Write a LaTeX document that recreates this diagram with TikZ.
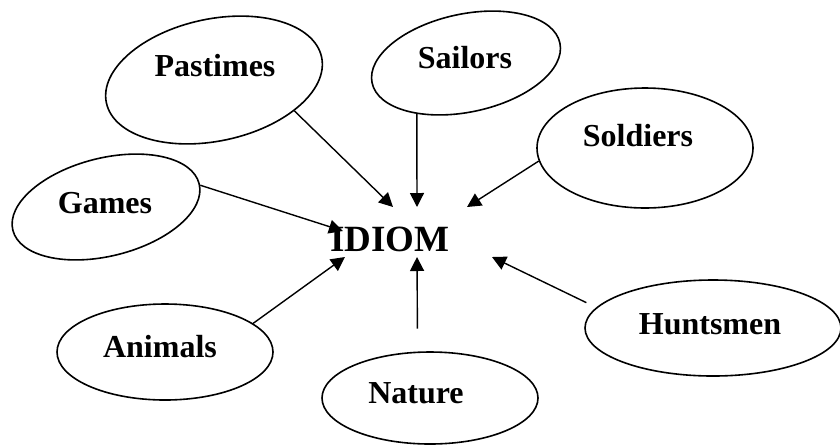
\documentclass[tikz,border=0pt]{standalone}
\usepackage{fontspec}
\setmainfont{Liberation Serif}
\usetikzlibrary{arrows.meta,shapes.geometric}

\begin{document}
\begin{tikzpicture}[x=0.5pt,y=-0.5pt,
    topic/.style={draw,ellipse,line width=0.8pt,inner sep=0pt},
    word/.style={anchor=base,font=\bfseries\fontsize{16}{19}\selectfont},
    link/.style={line width=0.7pt,-{Triangle[length=7pt,width=7pt]}}]
  \useasboundingbox (0,0) rectangle (840,446);
  \node[topic,minimum width=110pt,minimum height=61pt,rotate=12] (pastimes) at (214,80) {};
  \node[topic,minimum width=96pt,minimum height=49pt,rotate=12] (sailors) at (466,63) {};
  \node[topic,minimum width=108pt,minimum height=60pt] (soldiers) at (645,148) {};
  \node[topic,minimum width=96pt,minimum height=49pt,rotate=14] (games) at (106,207) {};
  \node[topic,minimum width=108pt,minimum height=48pt] (animals) at (165,352) {};
  \node[topic,minimum width=108pt,minimum height=46pt] (nature) at (430,398) {};
  \node[topic,minimum width=128pt,minimum height=48pt] (huntsmen) at (713,328) {};

  \node[word] (pastimes-lbl) at (215,76) {Pastimes};
  \node[word] (sailors-lbl) at (465,68) {Sailors};
  \node[word] (soldiers-lbl) at (638,146) {Soldiers};
  \node[word] (games-lbl) at (105,213) {Games};
  \node[word] (animals-lbl) at (160,357) {Animals};
  \node[word] (nature-lbl) at (416,403) {Nature};
  \node[word] (huntsmen-lbl) at (710,334) {Huntsmen};
  \node[word,font=\bfseries\fontsize{18.5}{22}\selectfont] (idiom) at (390,251) {IDIOM};

  \coordinate (to-pastimes) at (393,207);
  \coordinate (to-sailors) at (417,207);
  \coordinate (to-soldiers) at (467,207);
  \coordinate (to-games) at (343,231);
  \coordinate (to-animals) at (345,257);
  \coordinate (to-nature) at (417,257);
  \coordinate (to-huntsmen) at (492,257);

  \draw[link] (pastimes.-33) -- (to-pastimes);
  \draw[link] (sailors.-146) -- (to-sailors);
  \draw[link] (soldiers.-173) -- (to-soldiers);
  \draw[link] (games.-1) -- (to-games);
  \draw[link] (animals.18) -- (to-animals);
  \draw[link,shorten <=11.5pt] (nature.105) -- (to-nature);
  \draw[link,shorten <=5.5pt] (huntsmen.170) -- (to-huntsmen);
\end{tikzpicture}
\end{document}
